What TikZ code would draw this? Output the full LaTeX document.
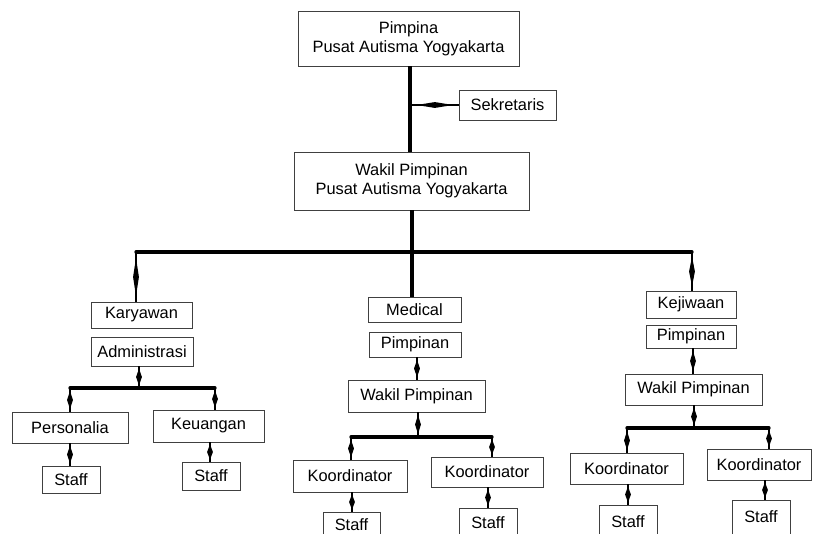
\documentclass[tikz,border=0pt]{standalone}
\usepackage{fontspec}
\setmainfont{Liberation Sans}
\usetikzlibrary{calc}
\newcommand\pxu{0.03cm}
\tikzset{
  box/.style={draw=black!75, line width=0.5pt, inner sep=0pt, align=center,
    font=\fontsize{14pt}{16pt}\selectfont, fill=white},
  thickline/.style={line width=3.4pt, line cap=butt},
  barline/.style={line width=2.8pt, line cap=round},
  thinline/.style={line width=0.9pt},
}
\newcommand\spindle[2]{%
  \draw[thinline] (#1) -- (#2);
  \fill ($(#1)!0.12!(#2)$) -- ($(#1)!0.5!(#2)!2.5pt!90:(#2)$) -- ($(#1)!0.88!(#2)$) -- ($(#1)!0.5!(#2)!2.5pt!-90:(#2)$) -- cycle;}
\begin{document}
\begin{tikzpicture}[x=0.03cm, y=-0.03cm]
\useasboundingbox (0,0) rectangle (814,533);
\fill[white] (0,0) rectangle (814,533);
\clip (0,0) rectangle (814,533);

% nodes
\node[box, minimum width=221*\pxu, minimum height=55*\pxu] (top) at (408.5,38.5) {Pimpina\\Pusat Autisma Yogyakarta};
\node[box, minimum width=97*\pxu, minimum height=30*\pxu] (sek) at (507.5,105) {Sekretaris};
\node[box, minimum width=235*\pxu, minimum height=58*\pxu] (wak) at (411.5,181) {Wakil Pimpinan\\Pusat Autisma Yogyakarta};

\node[box, minimum width=101*\pxu, minimum height=26*\pxu] (kary) at (141.5,315) {Karyawan};
\node[box, minimum width=102*\pxu, minimum height=29*\pxu] (adm) at (142,351.5) {Administrasi};
\node[box, minimum width=116*\pxu, minimum height=31*\pxu] (pers) at (70,427.5) {Personalia};
\node[box, minimum width=111*\pxu, minimum height=32*\pxu] (keu) at (208.5,426) {Keuangan};
\node[box, minimum width=58*\pxu, minimum height=27*\pxu] (st1) at (71,479.5) {Staff};
\node[box, minimum width=58*\pxu, minimum height=28*\pxu] (st2) at (211,476) {Staff};

\node[box, minimum width=93*\pxu, minimum height=25*\pxu] (med) at (414.5,309.5) {Medical};
\node[box, minimum width=92*\pxu, minimum height=25*\pxu] (mpim) at (415,344.5) {Pimpinan};
\node[box, minimum width=137*\pxu, minimum height=32*\pxu] (mwak) at (416.5,396) {Wakil Pimpinan};
\node[box, minimum width=114*\pxu, minimum height=32*\pxu] (mk1) at (350,476) {Koordinator};
\node[box, minimum width=112*\pxu, minimum height=30*\pxu] (mk2) at (487,472) {Koordinator};
\node[box, minimum width=57*\pxu, minimum height=26*\pxu] (ms1) at (351.5,525) {Staff};
\node[box, minimum width=58*\pxu, minimum height=30*\pxu] (ms2) at (488,523) {Staff};

\node[box, minimum width=90*\pxu, minimum height=27*\pxu] (kej) at (691,304.5) {Kejiwaan};
\node[box, minimum width=90*\pxu, minimum height=23*\pxu] (kpim) at (691,336.5) {Pimpinan};
\node[box, minimum width=137*\pxu, minimum height=31*\pxu] (kwak) at (693.5,389.5) {Wakil Pimpinan};
\node[box, minimum width=113*\pxu, minimum height=31*\pxu] (kk1) at (626.5,468.5) {Koordinator};
\node[box, minimum width=104*\pxu, minimum height=31*\pxu] (kk2) at (759,464.5) {Koordinator};
\node[box, minimum width=58*\pxu, minimum height=34*\pxu] (ks1) at (628,522) {Staff};
\node[box, minimum width=58*\pxu, minimum height=34*\pxu] (ks2) at (761,517) {Staff};

% top spine
\coordinate (spT) at (410,66);
\coordinate (spW) at (410,152);
\draw[thickline] (spT) -- (spW);
\coordinate (sekJ) at (411,105);
\coordinate (sekW) at (sek.west);
\spindle{sekJ}{sekW}

% main bar
\coordinate (wS) at (412,210);
\coordinate (bM) at (412,252);
\coordinate (bL) at (136,252);
\coordinate (bR) at (692,252);
\coordinate (mN) at (412,297);
\draw[thickline] (wS) -- (mN);
\draw[barline] (bL) -- (bR);
\coordinate (karN) at (136,302);
\spindle{bL}{karN}
\coordinate (kejN) at (692,291);
\spindle{bR}{kejN}

% left branch
\coordinate (admS) at (139,366);
\coordinate (lb) at (139,388);
\coordinate (lbL) at (70,388);
\coordinate (lbR) at (215,388);
\spindle{admS}{lb}
\draw[barline] (lbL) -- (lbR);
\coordinate (persN) at (70,412);
\coordinate (keuN) at (215,410);
\spindle{lbL}{persN}
\spindle{lbR}{keuN}
\coordinate (persS) at (70,443);
\coordinate (st1N) at (70,466);
\spindle{persS}{st1N}
\coordinate (keuS) at (210,442);
\coordinate (st2N) at (210,462);
\spindle{keuS}{st2N}

% middle branch
\coordinate (mpS) at (417,357);
\coordinate (mwN) at (417,380);
\spindle{mpS}{mwN}
\coordinate (mwS) at (418,412);
\coordinate (mb) at (418,437);
\coordinate (mbL) at (351,437);
\coordinate (mbR) at (492,437);
\spindle{mwS}{mb}
\draw[barline] (mbL) -- (mbR);
\coordinate (mk1N) at (351,460);
\coordinate (mk2N) at (492,457);
\spindle{mbL}{mk1N}
\spindle{mbR}{mk2N}
\coordinate (mk1S) at (352,492);
\coordinate (ms1N) at (352,512);
\spindle{mk1S}{ms1N}
\coordinate (mk2S) at (488,487);
\coordinate (ms2N) at (488,508);
\spindle{mk2S}{ms2N}

% right branch
\coordinate (kpS) at (693,348);
\coordinate (kwN) at (693,374);
\spindle{kpS}{kwN}
\coordinate (kwS) at (694,405);
\coordinate (rb) at (694,428);
\coordinate (rbL) at (627,428);
\coordinate (rbR) at (769,428);
\spindle{kwS}{rb}
\draw[barline] (rbL) -- (rbR);
\coordinate (kk1N) at (627,453);
\coordinate (kk2N) at (769,449);
\spindle{rbL}{kk1N}
\spindle{rbR}{kk2N}
\coordinate (kk1S) at (628,484);
\coordinate (ks1N) at (628,505);
\spindle{kk1S}{ks1N}
\coordinate (kk2S) at (765,480);
\coordinate (ks2N) at (765,500);
\spindle{kk2S}{ks2N}
\end{tikzpicture}
\end{document}
